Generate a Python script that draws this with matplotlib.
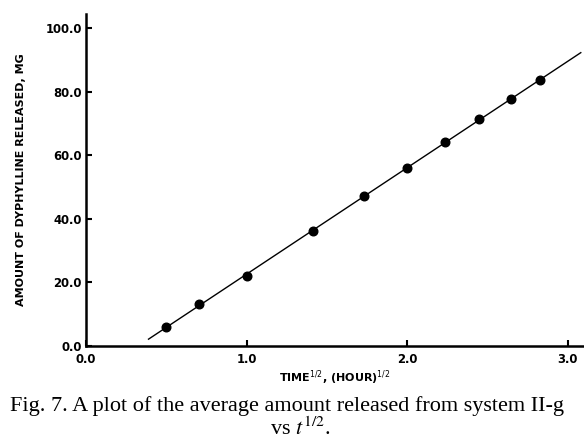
import numpy as np
import matplotlib
matplotlib.use("Agg")
import matplotlib.pyplot as plt

# sampling times (hours) and mean amount of dyphylline released (mg)
time_h = [0.25, 0.5, 1.0, 2.0, 3.0, 4.0, 5.0, 6.0, 7.0, 8.0]
released_mg = [6.0, 13.1, 22.1, 36.1, 47.2, 56.1, 64.2, 71.4, 77.7, 83.6]

x_ticks = [0.0, 1.0, 2.0, 3.0]
y_ticks = [0.0, 20.0, 40.0, 60.0, 80.0, 100.0]
fit_range = [0.39, 3.08]

sqrt_t = np.sqrt(time_h)
slope, icpt = np.polyfit(sqrt_t, released_mg, 1)
xf = np.array(fit_range)

tick_font = dict(family="DejaVu Sans", weight="bold", size=8.4)
lab_font = dict(family="DejaVu Sans", weight="bold", size=8.0)

fig = plt.figure(figsize=(5.84, 4.38), dpi=100)
ax = fig.add_axes([0.147, 0.21, 0.853, 0.758])

ax.plot(xf, slope * xf + icpt, color="black", lw=1.0)
ax.plot(sqrt_t, released_mg, "o", color="black", ms=6.2)

ax.set_xlim(0, 3.10)
ax.set_ylim(0, 104.4)
ax.set_xticks(x_ticks)
ax.set_yticks(y_ticks)
ax.set_xticklabels([f"{v:.1f}" for v in x_ticks], fontdict=tick_font)
ax.set_yticklabels([f"{v:.1f}" for v in y_ticks], fontdict=tick_font)
ax.tick_params(direction="in", length=4, width=1.5, pad=3)
ax.tick_params(axis="x", pad=5)

for side in ("top", "right"):
    ax.spines[side].set_visible(False)
for side in ("left", "bottom"):
    ax.spines[side].set_linewidth(1.8)

ax.set_ylabel("AMOUNT OF DYPHYLLINE RELEASED, MG", fontdict=lab_font, labelpad=14)
ax.set_xlabel(r"TIME$^{1/2}$, (HOUR)$^{1/2}$", fontdict=lab_font, labelpad=2)

fig.text(0.017, 0.074, "Fig. 7. A plot of the average amount released from system II-g",
         family="Liberation Serif", size=16.0, va="center", ha="left")
fig.text(0.514, 0.022, r"vs $t^{1/2}$.", family="Liberation Serif", size=16.0,
         va="center", ha="center", math_fontfamily="stix")

fig.savefig("out.png", dpi=100)
